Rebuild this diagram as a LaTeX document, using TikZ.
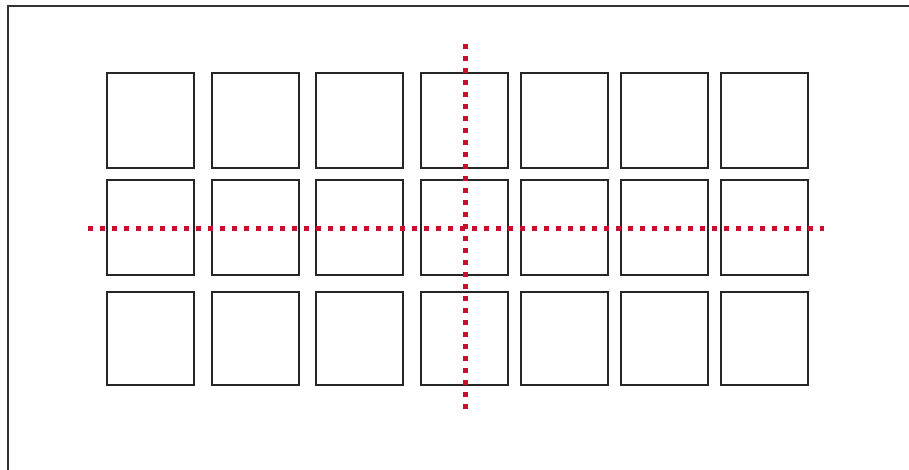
\documentclass[tikz,border=0pt]{standalone}
\definecolor{dotred}{RGB}{200,16,46}
\definecolor{frame}{RGB}{50,50,50}
\tikzset{
  cell/.style={draw=black!85, line width=1.1pt, fill=white, minimum width=87pt, minimum height=95pt, inner sep=0pt, outer sep=0pt, anchor=north west},
  redaxis/.style={draw=dotred, line width=5pt, dash pattern=on 5pt off 7pt},
  border/.style={draw=frame, line width=2pt}
}
\begin{document}
\begin{tikzpicture}[x=1pt,y=-1pt]
\useasboundingbox (0,0) rectangle (909,470);
\fill[white] (0,0) rectangle (909,470);
\coordinate (fbl) at (7.5,472);
\coordinate (ftl) at (7.5,6.5);
\coordinate (ftr) at (911,6.5);
\draw[border] (fbl) -- (ftl) -- (ftr);
% columns
\foreach \c/\x in {1/107,2/212,3/316,4/421,5/521,6/621,7/721}{
  \node[cell] (r1c\c) at (\x,73) {};
  \node[cell] (r2c\c) at (\x,180) {};
  \node[cell, minimum height=93pt] (r3c\c) at (\x,292) {};
}
\coordinate (hl) at (88,229);
\coordinate (hr) at (824,229);
\coordinate (vt) at (465.5,44);
\coordinate (vb) at (465.5,412);
\draw[redaxis] (hl) -- (hr);
\draw[redaxis] (vt) -- (vb);
\end{tikzpicture}
\end{document}
